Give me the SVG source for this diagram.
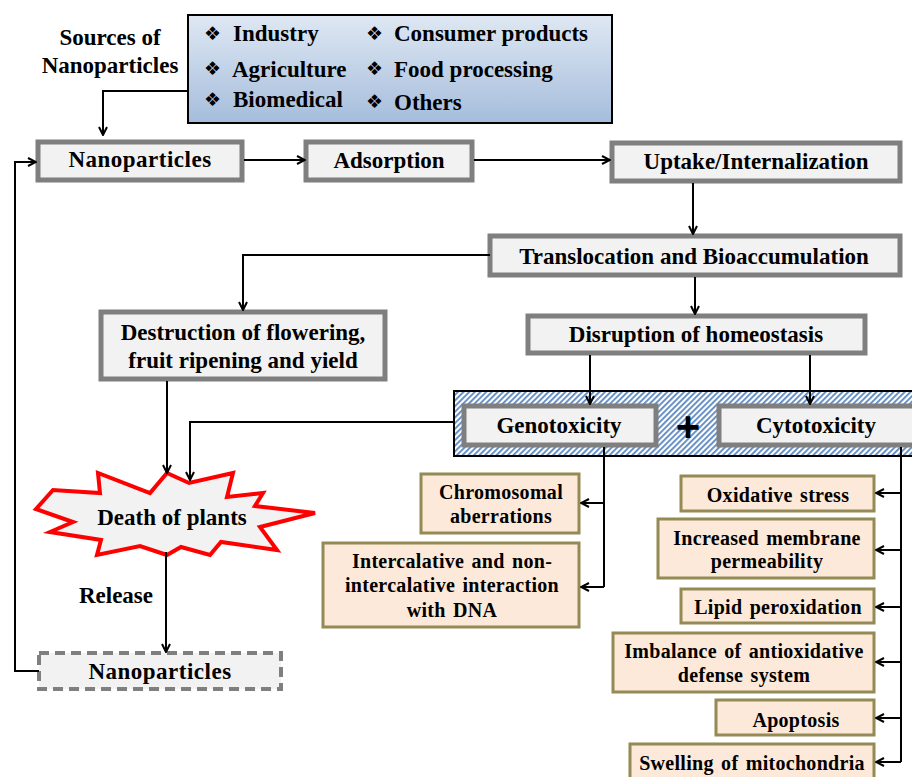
<svg xmlns="http://www.w3.org/2000/svg" width="912" height="777" viewBox="0 0 912 777">
<defs>
<linearGradient id="gblue" x1="0" y1="0" x2="0" y2="1">
<stop offset="0" stop-color="#dfe8f3"/>
<stop offset="1" stop-color="#a5bddc"/>
</linearGradient>
<pattern id="hatch" width="4" height="4" patternUnits="userSpaceOnUse" patternTransform="rotate(45)">
<rect width="4" height="4" fill="#ffffff"/>
<rect width="1.8" height="4" fill="#5b87c0"/>
</pattern>
<marker id="arr" viewBox="0 0 10 10" refX="9" refY="5" markerWidth="10" markerHeight="10" markerUnits="userSpaceOnUse" orient="auto">
<path d="M1,1 L9,5 L1,9" fill="none" stroke="#000" stroke-width="2"/>
</marker>
<style>
.t{font-size:23px;text-anchor:middle;}
.s{font-size:20px;text-anchor:middle;letter-spacing:0.3px;word-spacing:2px;}
.i{font-size:23px;}
.b{font-size:19px;fill:#000;}
.g{fill:#f2f2f2;stroke:#7f7f7f;stroke-width:5;}
.p{fill:#fde9d9;stroke:#948a54;stroke-width:3;}
.c{fill:none;stroke:#000;stroke-width:2;marker-end:url(#arr);}
.l{fill:none;stroke:#000;stroke-width:2;}
</style>
</defs>

<g font-family="'Liberation Serif', 'Times New Roman', serif" font-weight="bold" fill="#000">

<g id="sources-label">
<text class="t" x="110" y="45">Sources of</text>
<text class="t" x="110" y="73">Nanoparticles</text>
</g>
<g id="sources">
<rect x="188" y="15" width="424" height="108" fill="url(#gblue)" stroke="#000" stroke-width="2"/>
<g font-family="'DejaVu Sans', sans-serif" font-weight="normal">
<text class="b" x="204" y="40">❖</text>
<text class="b" x="366" y="40">❖</text>
<text class="b" x="204" y="75">❖</text>
<text class="b" x="366" y="75">❖</text>
<text class="b" x="204" y="106">❖</text>
<text class="b" x="366" y="108">❖</text>
</g>
<text class="i" x="233" y="41">Industry</text>
<text class="i" x="394" y="41">Consumer products</text>
<text class="i" x="232" y="77">Agriculture</text>
<text class="i" x="394" y="77">Food processing</text>
<text class="i" x="233" y="107">Biomedical</text>
<text class="i" x="394" y="110">Others</text>
</g>

<g id="nano1"><rect class="g" x="38" y="142" width="204" height="38"/><text class="t" x="140" y="167" letter-spacing="0.5">Nanoparticles</text></g>
<g id="adsorption"><rect class="g" x="306" y="142" width="166" height="38"/><text class="t" x="389" y="168">Adsorption</text></g>
<g id="uptake"><rect class="g" x="612" y="143" width="288" height="38"/><text class="t" x="756" y="169">Uptake/Internalization</text></g>
<g id="translocation"><rect class="g" x="490" y="236" width="410" height="39"/><text class="t" x="694" y="264">Translocation and Bioaccumulation</text></g>
<g id="destruction"><rect class="g" x="101" y="312" width="284" height="67"/><text class="t" x="243" y="340">Destruction of flowering,</text><text class="t" x="243" y="368">fruit ripening and yield</text></g>
<g id="disruption"><rect class="g" x="528" y="316" width="337" height="37"/><text class="t" x="696" y="342">Disruption of homeostasis</text></g>

<g id="toxicity">
<rect x="454" y="391" width="470" height="65" fill="url(#hatch)" stroke="#000" stroke-width="2"/>
<g id="genotoxicity"><rect class="g" x="464" y="406" width="192" height="39"/><text class="t" x="559" y="433">Genotoxicity</text></g>
<text x="688" y="441" font-size="42" text-anchor="middle" font-family="'Liberation Sans', Arial, sans-serif" font-weight="bold">+</text>
<g id="cytotoxicity"><rect class="g" x="719" y="406" width="200" height="39"/><text class="t" x="816" y="433">Cytotoxicity</text></g>
</g>

<g id="death">
<polygon points="167,473 189,483 233,473 227,497 263,493 255,506 315,513 260,527 277,550 221,542 210,555 181,547 167,555 140,546 97,555 101,540 50,532 73,522 36,509 53,490 100,493 98,473 150,493" fill="#f2f2f2" stroke="#ff0000" stroke-width="4" stroke-linejoin="miter"/>
<text class="t" x="172" y="525">Death of plants</text>
</g>
<g id="release-label"><text class="t" x="116" y="603">Release</text></g>
<g id="nano2"><rect x="39" y="653" width="242" height="36" fill="#f2f2f2" stroke="#7f7f7f" stroke-width="4" stroke-dasharray="10,6"/><text class="t" x="160" y="679" letter-spacing="0.5">Nanoparticles</text></g>

<g id="chromosomal"><rect class="p" x="421" y="474" width="158" height="59"/><text class="s" x="501" y="499">Chromosomal</text><text class="s" x="501" y="523">aberrations</text></g>
<g id="intercalative"><rect class="p" x="323" y="543" width="256" height="84"/><text class="s" x="452" y="568">Intercalative and non-</text><text class="s" x="452" y="592">intercalative interaction</text><text class="s" x="452" y="617">with DNA</text></g>

<g id="oxidative"><rect class="p" x="681" y="476" width="193" height="35"/><text class="s" x="778" y="502">Oxidative stress</text></g>
<g id="membrane"><rect class="p" x="658" y="519" width="216" height="59"/><text class="s" x="767" y="545">Increased membrane</text><text class="s" x="767" y="568">permeability</text></g>
<g id="lipid"><rect class="p" x="681" y="589" width="193" height="34"/><text class="s" x="778" y="614">Lipid peroxidation</text></g>
<g id="imbalance"><rect class="p" x="613" y="633" width="261" height="59"/><text class="s" x="744" y="658">Imbalance of antioxidative</text><text class="s" x="744" y="682">defense system</text></g>
<g id="apoptosis"><rect class="p" x="716" y="700" width="158" height="35"/><text class="s" x="796" y="727">Apoptosis</text></g>
<g id="swelling"><rect class="p" x="630" y="744" width="244" height="40"/><text class="s" x="752" y="770">Swelling of mitochondria</text></g>
</g>

<g id="connectors">
<path class="c" d="M188,91 H103 V135"/>
<path class="c" d="M244,160 H305"/>
<path class="c" d="M474,160 H610"/>
<path class="c" d="M693,183 V234"/>
<path class="c" d="M490,255 H243 V310"/>
<path class="c" d="M695,277 V314"/>
<path class="c" d="M590,355 V404"/>
<path class="c" d="M810,355 V404"/>
<path class="c" d="M167,381 V473"/>
<path class="c" d="M454,422 H190 V480"/>
<path class="c" d="M166,552 V652"/>
<path class="c" d="M39,671 H15 V162 H36"/>
<path class="l" d="M604,447 V587"/>
<path class="c" d="M604,503 H581"/>
<path class="c" d="M604,587 H581"/>
<path class="l" d="M901,447 V762"/>
<path class="c" d="M901,493 H876"/>
<path class="c" d="M901,550 H876"/>
<path class="c" d="M901,607 H876"/>
<path class="c" d="M901,662 H876"/>
<path class="c" d="M901,718 H876"/>
<path class="c" d="M901,762 H876"/>
</g>
</svg>
